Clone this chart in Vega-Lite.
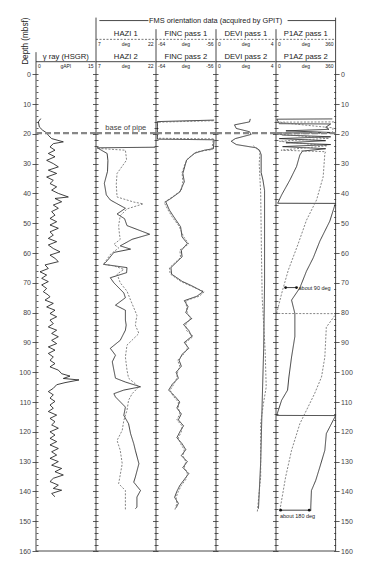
{
"$schema":"https://vega.github.io/schema/vega-lite/v6.json",
"padding":{"left":18,"top":16,"right":5,"bottom":5},
"bounds":"flush",
"spacing":0,
"config":{"view":{"stroke":null},"axis":{"grid":false},"font":"Liberation Sans"},
"resolve":{"scale":{"x":"independent","y":"independent"}},
"datasets":{
"gamma":[{"d":14.9,"v":1.2},{"d":16,"v":0.6},{"d":17.7,"v":0.84},{"d":18.8,"v":1.68},{"d":19.7,"v":2.68},{"d":20.5,"v":3.1},{"d":21.6,"v":3.94},{"d":22.7,"v":6.88},{"d":23.3,"v":4.36},{"d":24.4,"v":3.52},{"d":25.5,"v":4.78},{"d":26.6,"v":3.1},{"d":27.7,"v":4.78},{"d":28.9,"v":2.68},{"d":30,"v":4.36},{"d":31.1,"v":5.62},{"d":32.2,"v":3.1},{"d":33.3,"v":5.2},{"d":34.5,"v":2.68},{"d":35.6,"v":4.36},{"d":36.7,"v":3.52},{"d":37.8,"v":5.2},{"d":38.9,"v":3.94},{"d":40,"v":5.62},{"d":41.2,"v":8.14},{"d":41.7,"v":4.78},{"d":42.8,"v":6.46},{"d":43.9,"v":4.36},{"d":45,"v":5.62},{"d":46.1,"v":3.94},{"d":47.3,"v":4.78},{"d":48.4,"v":3.52},{"d":49.5,"v":5.2},{"d":50.6,"v":3.52},{"d":51.7,"v":5.62},{"d":52.9,"v":3.52},{"d":54,"v":4.36},{"d":55.1,"v":3.1},{"d":56.2,"v":5.2},{"d":57.3,"v":3.1},{"d":58.5,"v":4.36},{"d":59.6,"v":6.04},{"d":60.7,"v":3.52},{"d":61.8,"v":4.78},{"d":62.9,"v":5.62},{"d":64,"v":2.27},{"d":65.2,"v":3.1},{"d":66.3,"v":1.01},{"d":67.4,"v":2.68},{"d":68.5,"v":1.43},{"d":69.6,"v":3.1},{"d":70.7,"v":1.43},{"d":71.9,"v":2.68},{"d":73,"v":1.85},{"d":74.1,"v":3.1},{"d":74.7,"v":3.52},{"d":75.8,"v":2.27},{"d":76.9,"v":4.36},{"d":78.1,"v":2.68},{"d":79.2,"v":4.78},{"d":80.3,"v":3.52},{"d":81.4,"v":5.2},{"d":82.5,"v":3.52},{"d":83.7,"v":4.36},{"d":84.8,"v":3.1},{"d":85.9,"v":5.2},{"d":87,"v":3.94},{"d":88.1,"v":5.62},{"d":89.3,"v":3.94},{"d":90.4,"v":5.2},{"d":91.5,"v":3.1},{"d":92.6,"v":4.78},{"d":93.7,"v":3.1},{"d":94.9,"v":4.36},{"d":96,"v":3.52},{"d":97.1,"v":4.78},{"d":98.2,"v":3.52},{"d":99.3,"v":5.62},{"d":100.5,"v":6.46},{"d":101.3,"v":8.56},{"d":102.1,"v":6.88},{"d":102.6,"v":10.82},{"d":103.5,"v":7.3},{"d":104.2,"v":5.2},{"d":105.4,"v":4.36},{"d":106.5,"v":3.1},{"d":107.6,"v":4.36},{"d":108.7,"v":3.52},{"d":109.8,"v":4.78},{"d":111,"v":3.52},{"d":112.1,"v":4.36},{"d":113.2,"v":3.1},{"d":114.4,"v":5.2},{"d":115.5,"v":3.52},{"d":116.6,"v":4.78},{"d":117.7,"v":3.94},{"d":118.8,"v":5.62},{"d":120,"v":3.52},{"d":121.1,"v":4.78},{"d":122.2,"v":3.52},{"d":123.3,"v":5.2},{"d":124.4,"v":3.52},{"d":125.6,"v":5.62},{"d":126.7,"v":3.94},{"d":127.8,"v":5.2},{"d":128.9,"v":3.52},{"d":130,"v":5.62},{"d":131.2,"v":3.94},{"d":132.3,"v":6.46},{"d":133.4,"v":4.78},{"d":134.5,"v":6.88},{"d":135.6,"v":4.36},{"d":136.7,"v":3.52},{"d":137.9,"v":5.62},{"d":139,"v":4.36},{"d":139.6,"v":6.46},{"d":140.7,"v":3.94},{"d":141.8,"v":4.78}],
"hazi":[{"p":2,"d":24.5,"v":21.9},{"p":2,"d":24.7,"v":7.3},{"p":2,"d":26.6,"v":9.8},{"p":2,"d":29,"v":10},{"p":2,"d":32.6,"v":9.9},{"p":2,"d":36.6,"v":9.1},{"p":2,"d":40.5,"v":9.6},{"p":2,"d":42.2,"v":10.6},{"p":2,"d":45,"v":14.4},{"p":2,"d":46.9,"v":12.3},{"p":2,"d":48.5,"v":14.2},{"p":2,"d":50.8,"v":14.8},{"p":2,"d":53.7,"v":20.5},{"p":2,"d":55.4,"v":16.1},{"p":2,"d":57.6,"v":13.1},{"p":2,"d":58.7,"v":15.7},{"p":2,"d":59.8,"v":11.5},{"p":2,"d":62.6,"v":9.8},{"p":2,"d":63.8,"v":8.9},{"p":2,"d":64.9,"v":14.8},{"p":2,"d":66.6,"v":14.7},{"p":2,"d":68.3,"v":10.6},{"p":2,"d":70,"v":11.5},{"p":2,"d":73.4,"v":14},{"p":2,"d":75,"v":14.4},{"p":2,"d":77.5,"v":11.9},{"p":2,"d":79.2,"v":14.4},{"p":2,"d":82.5,"v":14.4},{"p":2,"d":84.2,"v":14.6},{"p":2,"d":85.9,"v":14.4},{"p":2,"d":89.3,"v":13.1},{"p":2,"d":92,"v":10.6},{"p":2,"d":94.3,"v":11.9},{"p":2,"d":96.5,"v":11.1},{"p":2,"d":99.3,"v":11.5},{"p":2,"d":102,"v":11.9},{"p":2,"d":103.3,"v":14.4},{"p":2,"d":104.9,"v":18.2},{"p":2,"d":106,"v":14},{"p":2,"d":107.2,"v":11.5},{"p":2,"d":108.3,"v":11.9},{"p":2,"d":111.7,"v":14.4},{"p":2,"d":114.5,"v":14},{"p":2,"d":117.3,"v":15.2},{"p":2,"d":120.6,"v":15.7},{"p":2,"d":124,"v":16.5},{"p":2,"d":126.2,"v":16.9},{"p":2,"d":130.7,"v":17.8},{"p":2,"d":135.2,"v":16.9},{"p":2,"d":136.9,"v":16.5},{"p":2,"d":139.7,"v":18.2},{"p":2,"d":141.9,"v":17.3},{"p":2,"d":145.3,"v":17.3},{"p":2,"d":145.8,"v":16.9},
{"p":1,"d":24.9,"v":7.5},{"p":1,"d":25.5,"v":14.4},{"p":1,"d":28.8,"v":14.7},{"p":1,"d":33.3,"v":12.3},{"p":1,"d":37,"v":12.1},{"p":1,"d":41.2,"v":12.3},{"p":1,"d":42.9,"v":16.5},{"p":1,"d":43.5,"v":18.9},{"p":1,"d":45.2,"v":14.8},{"p":1,"d":47.5,"v":13.1},{"p":1,"d":50.8,"v":12.7},{"p":1,"d":53.7,"v":12.9},{"p":1,"d":55.4,"v":13.1},{"p":1,"d":57.1,"v":11.5},{"p":1,"d":58.3,"v":12.7},{"p":1,"d":60.5,"v":10.6},{"p":1,"d":63.8,"v":8.9},{"p":1,"d":64.3,"v":11.5},{"p":1,"d":65.5,"v":14},{"p":1,"d":67.1,"v":12.3},{"p":1,"d":70,"v":13.1},{"p":1,"d":72.8,"v":14.8},{"p":1,"d":75.8,"v":15.7},{"p":1,"d":80.9,"v":17.3},{"p":1,"d":84.2,"v":16.9},{"p":1,"d":87,"v":17.8},{"p":1,"d":90.9,"v":14.8},{"p":1,"d":94.9,"v":14.4},{"p":1,"d":99.3,"v":14.8},{"p":1,"d":102,"v":15.2},{"p":1,"d":103.9,"v":16.9},{"p":1,"d":104.9,"v":17.8},{"p":1,"d":107.2,"v":16.1},{"p":1,"d":109.4,"v":15.2},{"p":1,"d":112.8,"v":14.8},{"p":1,"d":116.2,"v":14},{"p":1,"d":119.5,"v":13.6},{"p":1,"d":122.9,"v":12.3},{"p":1,"d":126.2,"v":13.1},{"p":1,"d":130.7,"v":13.6},{"p":1,"d":137.4,"v":12.7},{"p":1,"d":139.7,"v":14.4},{"p":1,"d":144.2,"v":14.4},{"p":1,"d":146.5,"v":14.4}],
"finc":[{"p":2,"d":15.4,"v":-56.2},{"p":2,"d":15.9,"v":-63.8},{"p":2,"d":21.8,"v":-63.8},{"p":2,"d":22,"v":-56.2},{"p":2,"d":25,"v":-56.3},{"p":2,"d":25.5,"v":-57.5},{"p":2,"d":26.5,"v":-58.8},{"p":2,"d":28.8,"v":-59.9},{"p":2,"d":33.3,"v":-60.4},{"p":2,"d":36.1,"v":-60.2},{"p":2,"d":39.5,"v":-60.8},{"p":2,"d":41.7,"v":-62},{"p":2,"d":42.8,"v":-62.7},{"p":2,"d":45.6,"v":-62.2},{"p":2,"d":47.9,"v":-61.6},{"p":2,"d":51.2,"v":-60.7},{"p":2,"d":54.6,"v":-60.5},{"p":2,"d":56.8,"v":-59.8},{"p":2,"d":59.1,"v":-60.6},{"p":2,"d":61.3,"v":-60.5},{"p":2,"d":64.9,"v":-62},{"p":2,"d":67.1,"v":-61.9},{"p":2,"d":69.5,"v":-60.5},{"p":2,"d":71,"v":-59.2},{"p":2,"d":73,"v":-57.7},{"p":2,"d":74.5,"v":-58.5},{"p":2,"d":76,"v":-60.2},{"p":2,"d":78,"v":-59.7},{"p":2,"d":80,"v":-60},{"p":2,"d":82,"v":-59.2},{"p":2,"d":84,"v":-60.3},{"p":2,"d":86,"v":-59.6},{"p":2,"d":88,"v":-59.2},{"p":2,"d":90,"v":-60.2},{"p":2,"d":92,"v":-59.6},{"p":2,"d":94,"v":-60.5},{"p":2,"d":96,"v":-60.9},{"p":2,"d":98,"v":-60.6},{"p":2,"d":100,"v":-61.3},{"p":2,"d":102,"v":-61},{"p":2,"d":104,"v":-61.8},{"p":2,"d":106,"v":-62.3},{"p":2,"d":108,"v":-61.5},{"p":2,"d":110,"v":-60.8},{"p":2,"d":112,"v":-61.2},{"p":2,"d":114,"v":-60.6},{"p":2,"d":116,"v":-61},{"p":2,"d":118,"v":-60.3},{"p":2,"d":120,"v":-60.8},{"p":2,"d":122,"v":-61.2},{"p":2,"d":124,"v":-60.5},{"p":2,"d":126,"v":-60},{"p":2,"d":128,"v":-60.6},{"p":2,"d":130,"v":-59.8},{"p":2,"d":132,"v":-60.4},{"p":2,"d":134,"v":-59.6},{"p":2,"d":136,"v":-60.2},{"p":2,"d":138,"v":-60.8},{"p":2,"d":140,"v":-61.2},{"p":2,"d":142,"v":-61.5},{"p":2,"d":144,"v":-61},{"p":2,"d":145.5,"v":-61.3},
{"p":1,"d":15.6,"v":-56.3},{"p":1,"d":16.1,"v":-63.8},{"p":1,"d":21.5,"v":-63.8},{"p":1,"d":21.7,"v":-56.3},{"p":1,"d":25.3,"v":-56.5},{"p":1,"d":26,"v":-58.5},{"p":1,"d":28,"v":-59.6},{"p":1,"d":30,"v":-60.1},{"p":1,"d":33,"v":-60.5},{"p":1,"d":36,"v":-60.4},{"p":1,"d":39,"v":-60.6},{"p":1,"d":41,"v":-61.7},{"p":1,"d":43,"v":-62.9},{"p":1,"d":45.5,"v":-62.4},{"p":1,"d":48,"v":-61.8},{"p":1,"d":51,"v":-60.9},{"p":1,"d":54.5,"v":-60.3},{"p":1,"d":57,"v":-59.6},{"p":1,"d":59,"v":-60.8},{"p":1,"d":61.5,"v":-60.7},{"p":1,"d":65,"v":-62.2},{"p":1,"d":67,"v":-62.1},{"p":1,"d":69.5,"v":-60.7},{"p":1,"d":71,"v":-59.4},{"p":1,"d":73,"v":-57.5},{"p":1,"d":74.5,"v":-58.2},{"p":1,"d":76,"v":-60},{"p":1,"d":78,"v":-59.9},{"p":1,"d":80,"v":-59.8},{"p":1,"d":82,"v":-59.4},{"p":1,"d":84,"v":-60},{"p":1,"d":86,"v":-59.9},{"p":1,"d":88,"v":-59},{"p":1,"d":90,"v":-60},{"p":1,"d":92,"v":-59.8},{"p":1,"d":94,"v":-60.3},{"p":1,"d":96,"v":-61.1},{"p":1,"d":98,"v":-60.8},{"p":1,"d":100,"v":-61.1},{"p":1,"d":102,"v":-61.2},{"p":1,"d":104,"v":-61.6},{"p":1,"d":106,"v":-62.1},{"p":1,"d":108,"v":-61.7},{"p":1,"d":110,"v":-61},{"p":1,"d":112,"v":-61},{"p":1,"d":114,"v":-60.8},{"p":1,"d":116,"v":-61.2},{"p":1,"d":118,"v":-60.5},{"p":1,"d":120,"v":-60.6},{"p":1,"d":122,"v":-61},{"p":1,"d":124,"v":-60.7},{"p":1,"d":126,"v":-60.2},{"p":1,"d":128,"v":-60.4},{"p":1,"d":130,"v":-60},{"p":1,"d":132,"v":-60.2},{"p":1,"d":134,"v":-59.8},{"p":1,"d":136,"v":-60},{"p":1,"d":138,"v":-60.6},{"p":1,"d":140,"v":-61},{"p":1,"d":142,"v":-61.3},{"p":1,"d":144,"v":-61.2},{"p":1,"d":146.5,"v":-61.5}],
"devi":[{"p":2,"d":15,"v":2.3},{"p":2,"d":16,"v":2.25},{"p":2,"d":17,"v":1.24},{"p":2,"d":18.2,"v":1.36},{"p":2,"d":19.3,"v":2.25},{"p":2,"d":20.2,"v":2.36},{"p":2,"d":21.6,"v":1.3},{"p":2,"d":22.5,"v":1.02},{"p":2,"d":23.6,"v":1.36},{"p":2,"d":24.7,"v":2.7},{"p":2,"d":25.5,"v":2.92},{"p":2,"d":27,"v":3.03},{"p":2,"d":33,"v":3.03},{"p":2,"d":35.5,"v":3.15},{"p":2,"d":39,"v":3.26},{"p":2,"d":70,"v":3.26},{"p":2,"d":92,"v":3.2},{"p":2,"d":110,"v":3.1},{"p":2,"d":130,"v":3},{"p":2,"d":145.8,"v":2.85},
{"p":1,"d":24,"v":2.5},{"p":1,"d":26,"v":2.95},{"p":1,"d":30,"v":2.9},{"p":1,"d":40,"v":3},{"p":1,"d":60,"v":3.05},{"p":1,"d":75,"v":3.1},{"p":1,"d":93,"v":3.3},{"p":1,"d":105,"v":3.37},{"p":1,"d":110,"v":3.2},{"p":1,"d":117,"v":3},{"p":1,"d":135,"v":3},{"p":1,"d":147,"v":2.77}],
"p1az":[{"p":2,"d":15,"v":340},{"p":2,"d":15.1,"v":5},{"p":2,"d":16.6,"v":20},{"p":2,"d":16.7,"v":330},{"p":2,"d":17.8,"v":300},{"p":2,"d":18.5,"v":320},{"p":2,"d":19,"v":60},{"p":2,"d":19.6,"v":355},{"p":2,"d":19.7,"v":5},{"p":2,"d":20.4,"v":40},{"p":2,"d":21,"v":330},{"p":2,"d":21.6,"v":20},{"p":2,"d":22.3,"v":300},{"p":2,"d":23,"v":60},{"p":2,"d":23.6,"v":330},{"p":2,"d":24.3,"v":40},{"p":2,"d":25,"v":300},{"p":2,"d":25.8,"v":160},{"p":2,"d":27.1,"v":144},{"p":2,"d":31,"v":124},{"p":2,"d":35.5,"v":84},{"p":2,"d":40.5,"v":34},{"p":2,"d":43.3,"v":10},{"p":2,"d":43.35,"v":360},{"p":2,"d":44,"v":355},{"p":2,"d":49.3,"v":325},{"p":2,"d":56,"v":265},{"p":2,"d":61.6,"v":225},{"p":2,"d":66.1,"v":184},{"p":2,"d":71.7,"v":144},{"p":2,"d":75.8,"v":94},{"p":2,"d":80.3,"v":114},{"p":2,"d":88,"v":114},{"p":2,"d":94.9,"v":94},{"p":2,"d":101.6,"v":78},{"p":2,"d":106,"v":70},{"p":2,"d":109.4,"v":34},{"p":2,"d":114.5,"v":4},{"p":2,"d":114.55,"v":360},{"p":2,"d":115,"v":356},{"p":2,"d":120.6,"v":304},{"p":2,"d":126.2,"v":295},{"p":2,"d":131.8,"v":265},{"p":2,"d":136.3,"v":240},{"p":2,"d":139.7,"v":214},{"p":2,"d":145.3,"v":210},{"p":2,"d":146.5,"v":210},
{"p":1,"d":16,"v":350},{"p":1,"d":16.1,"v":10},{"p":1,"d":17.5,"v":250},{"p":1,"d":18,"v":345},{"p":1,"d":19.8,"v":340},{"p":1,"d":20.1,"v":10},{"p":1,"d":21.5,"v":320},{"p":1,"d":22.5,"v":20},{"p":1,"d":24,"v":310},{"p":1,"d":25.5,"v":30},{"p":1,"d":26,"v":300},{"p":1,"d":26.6,"v":295},{"p":1,"d":34.4,"v":285},{"p":1,"d":42.2,"v":245},{"p":1,"d":49,"v":184},{"p":1,"d":56.9,"v":134},{"p":1,"d":65.8,"v":74},{"p":1,"d":73.6,"v":34},{"p":1,"d":80.3,"v":4},{"p":1,"d":80.35,"v":360},{"p":1,"d":81,"v":355},{"p":1,"d":84.9,"v":304},{"p":1,"d":94.9,"v":295},{"p":1,"d":101.6,"v":275},{"p":1,"d":107.2,"v":233},{"p":1,"d":117.3,"v":144},{"p":1,"d":126.2,"v":94},{"p":1,"d":135.2,"v":58},{"p":1,"d":146.5,"v":23}]
},
"hconcat":[
{"width":59.6,"height":534,"data":{"values":[{}]},"resolve":{"axis":{"x":"independent","y":"independent"}},"layer":[
 {"data":{"name":"gamma"},"mark":{"type":"line","color":"#111","strokeWidth":0.8},"encoding":{
  "x":{"field":"v","type":"quantitative","scale":{"domain":[0,15],"nice":false,"zero":false},"axis":null},
  "y":{"field":"d","type":"quantitative","scale":{"domain":[-19.2,160],"reverse":true,"nice":false,"zero":false},"axis":null},
  "order":{"field":"d"}}},
 {"mark":{"type":"rule","color":"#333","strokeWidth":0.9},"encoding":{"x":{"datum":0,"axis":null},"y":{"datum":-7.4,"axis":{"orient":"left","values":[0,2,4,6,8,10,12,14,16,18,20,22,24,26,28,30,32,34,36,38,40,42,44,46,48,50,52,54,56,58,60,62,64,66,68,70,72,74,76,78,80,82,84,86,88,90,92,94,96,98,100,102,104,106,108,110,112,114,116,118,120,122,124,126,128,130,132,134,136,138,140,142,144,146,148,150,152,154,156,158,160],"domain":false,"offset":-2,"tickColor":"#333","tickWidth":0.8,"tickSize":{"condition":{"test":"datum.value % 10 === 0","value":6},"value":2},"labelExpr":"datum.value % 10 === 0 ? datum.label : ''","labelOverlap":false,"labelFontSize":7,"labelColor":"#444","labelPadding":1.5,"title":"Depth (mbsf)","titleFontSize":8.2,"titleFontWeight":"normal","titleColor":"#222","titleAnchor":"start","titleAlign":"right","titlePadding":-11}},"y2":{"datum":160}}},
 {"mark":{"type":"rule","color":"#333","strokeWidth":0.9},"encoding":{"x":{"datum":0,"axis":null},"x2":{"datum":15},"y":{"datum":160,"axis":null}}},
 {"mark":{"type":"rule","color":"#333","strokeWidth":0.9},"encoding":{"x":{"datum":0,"axis":null},"x2":{"datum":15},"y":{"datum":-4.2,"axis":null}}},
 {"mark":{"type":"rule","color":"#888","strokeWidth":2.2,"strokeDash":[6,3]},"encoding":{"x":{"datum":0,"axis":null},"x2":{"datum":15},"y":{"datum":19.8,"axis":null}}},
 {"mark":{"type":"text","text":"γ ray (HSGR)","fontSize":7.7,"color":"#222","baseline":"middle"},"encoding":{"x":{"datum":7.5,"axis":null},"y":{"datum":-5.9,"axis":null}}},
 {"mark":{"type":"text","text":"0","fontSize":5,"color":"#222","baseline":"middle","align":"left","dx":2},"encoding":{"x":{"datum":0,"axis":null},"y":{"datum":-2.7,"axis":null}}},
 {"mark":{"type":"text","text":"gAPI","fontSize":5,"color":"#222","baseline":"middle"},"encoding":{"x":{"datum":7.5,"axis":null},"y":{"datum":-2.7,"axis":null}}},
 {"mark":{"type":"text","text":"15","fontSize":5,"color":"#222","baseline":"middle","align":"right","dx":-2},"encoding":{"x":{"datum":15,"axis":null},"y":{"datum":-2.7,"axis":null}}}
]},
{"width":59.6,"height":534,"data":{"values":[{}]},"resolve":{"axis":{"x":"independent","y":"independent"}},"layer":[
 {"data":{"name":"hazi"},"mark":{"type":"line","strokeWidth":0.8},"encoding":{
  "x":{"field":"v","type":"quantitative","scale":{"domain":[7,22],"nice":false,"zero":false},"axis":null},
  "y":{"field":"d","type":"quantitative","scale":{"domain":[-19.2,160],"reverse":true,"nice":false,"zero":false},"axis":null},
  "order":{"field":"d"},
  "color":{"field":"p","type":"nominal","scale":{"domain":[1,2],"range":["#666","#111"]},"legend":null},
  "strokeDash":{"field":"p","type":"nominal","scale":{"domain":[1,2],"range":[[2,1.5],[1,0]]},"legend":null}}},
 {"mark":{"type":"rule","color":"#333","strokeWidth":0.9},"encoding":{"x":{"datum":7,"axis":null},"y":{"datum":-19,"axis":{"orient":"left","values":[0,2,4,6,8,10,12,14,16,18,20,22,24,26,28,30,32,34,36,38,40,42,44,46,48,50,52,54,56,58,60,62,64,66,68,70,72,74,76,78,80,82,84,86,88,90,92,94,96,98,100,102,104,106,108,110,112,114,116,118,120,122,124,126,128,130,132,134,136,138,140,142,144,146,148,150,152,154,156,158,160],"labels":false,"domain":false,"title":null,"offset":-2,"tickColor":"#333","tickWidth":0.8,"tickSize":{"condition":{"test":"datum.value % 10 === 0","value":5.5},"value":4}}},"y2":{"datum":160}}},
 {"mark":{"type":"rule","color":"#333","strokeWidth":0.9},"encoding":{"x":{"datum":7,"axis":null},"x2":{"datum":22},"y":{"datum":160,"axis":null}}},
 {"mark":{"type":"rule","color":"#333","strokeWidth":0.9},"encoding":{"x":{"datum":7,"axis":null},"x2":{"datum":22},"y":{"datum":-4.2,"axis":null}}},
 {"mark":{"type":"rule","color":"#555","strokeWidth":0.8,"strokeDash":[2,1.5]},"encoding":{"x":{"datum":7,"axis":null},"x2":{"datum":22},"y":{"datum":-11.7,"axis":null}}},
 {"mark":{"type":"rule","color":"#333","strokeWidth":0.9},"encoding":{"x":{"datum":7.85,"axis":null},"x2":{"datum":20.2},"y":{"datum":-18,"axis":null}}},
 {"mark":{"type":"rule","color":"#888","strokeWidth":2.2,"strokeDash":[6,3]},"encoding":{"x":{"datum":7,"axis":null},"x2":{"datum":22},"y":{"datum":19.8,"axis":null}}},
 {"mark":{"type":"text","text":"base of pipe","fontSize":7.5,"color":"#444","baseline":"middle"},"encoding":{"x":{"datum":14.5,"axis":null},"y":{"datum":18,"axis":null}}},
 {"mark":{"type":"text","text":"HAZI 2","fontSize":7.7,"color":"#222","baseline":"middle"},"encoding":{"x":{"datum":14.5,"axis":null},"y":{"datum":-5.9,"axis":null}}},
 {"mark":{"type":"text","text":"HAZI 1","fontSize":7.7,"color":"#222","baseline":"middle"},"encoding":{"x":{"datum":14.5,"axis":null},"y":{"datum":-13.4,"axis":null}}},
 {"mark":{"type":"text","text":"7","fontSize":5,"color":"#222","baseline":"middle","align":"left","dx":2},"encoding":{"x":{"datum":7,"axis":null},"y":{"datum":-2.7,"axis":null}}},
 {"mark":{"type":"text","text":"deg","fontSize":5,"color":"#222","baseline":"middle"},"encoding":{"x":{"datum":14.5,"axis":null},"y":{"datum":-2.7,"axis":null}}},
 {"mark":{"type":"text","text":"22","fontSize":5,"color":"#222","baseline":"middle","align":"right","dx":-2},"encoding":{"x":{"datum":22,"axis":null},"y":{"datum":-2.7,"axis":null}}},
 {"mark":{"type":"text","text":"7","fontSize":5,"color":"#222","baseline":"middle","align":"left","dx":2},"encoding":{"x":{"datum":7,"axis":null},"y":{"datum":-10.1,"axis":null}}},
 {"mark":{"type":"text","text":"deg","fontSize":5,"color":"#222","baseline":"middle"},"encoding":{"x":{"datum":14.5,"axis":null},"y":{"datum":-10.1,"axis":null}}},
 {"mark":{"type":"text","text":"22","fontSize":5,"color":"#222","baseline":"middle","align":"right","dx":-2},"encoding":{"x":{"datum":22,"axis":null},"y":{"datum":-10.1,"axis":null}}}
]},
{"width":59.6,"height":534,"data":{"values":[{}]},"resolve":{"axis":{"x":"independent","y":"independent"}},"layer":[
 {"data":{"name":"finc"},"mark":{"type":"line","strokeWidth":0.8},"encoding":{
  "x":{"field":"v","type":"quantitative","scale":{"domain":[-64,-56],"nice":false,"zero":false},"axis":null},
  "y":{"field":"d","type":"quantitative","scale":{"domain":[-19.2,160],"reverse":true,"nice":false,"zero":false},"axis":null},
  "order":{"field":"d"},
  "color":{"field":"p","type":"nominal","scale":{"domain":[1,2],"range":["#666","#111"]},"legend":null},
  "strokeDash":{"field":"p","type":"nominal","scale":{"domain":[1,2],"range":[[2,1.5],[1,0]]},"legend":null}}},
 {"mark":{"type":"rule","color":"#333","strokeWidth":0.9},"encoding":{"x":{"datum":-64,"axis":null},"y":{"datum":-15.1,"axis":{"orient":"left","values":[0,2,4,6,8,10,12,14,16,18,20,22,24,26,28,30,32,34,36,38,40,42,44,46,48,50,52,54,56,58,60,62,64,66,68,70,72,74,76,78,80,82,84,86,88,90,92,94,96,98,100,102,104,106,108,110,112,114,116,118,120,122,124,126,128,130,132,134,136,138,140,142,144,146,148,150,152,154,156,158,160],"labels":false,"domain":false,"title":null,"offset":-2,"tickColor":"#333","tickWidth":0.8,"tickSize":{"condition":{"test":"datum.value % 10 === 0","value":5.5},"value":4}}},"y2":{"datum":160}}},
 {"mark":{"type":"rule","color":"#333","strokeWidth":0.9},"encoding":{"x":{"datum":-64,"axis":null},"x2":{"datum":-56},"y":{"datum":160,"axis":null}}},
 {"mark":{"type":"rule","color":"#333","strokeWidth":0.9},"encoding":{"x":{"datum":-64,"axis":null},"x2":{"datum":-56},"y":{"datum":-4.2,"axis":null}}},
 {"mark":{"type":"rule","color":"#555","strokeWidth":0.8,"strokeDash":[2,1.5]},"encoding":{"x":{"datum":-64,"axis":null},"x2":{"datum":-56},"y":{"datum":-11.7,"axis":null}}},
 {"mark":{"type":"rule","color":"#888","strokeWidth":2.2,"strokeDash":[6,3]},"encoding":{"x":{"datum":-64,"axis":null},"x2":{"datum":-56},"y":{"datum":19.8,"axis":null}}},
 {"mark":{"type":"text","text":"FMS orientation data (acquired by GPIT)","fontSize":7.4,"color":"#222","baseline":"middle"},"encoding":{"x":{"datum":-56,"axis":null},"y":{"datum":-18,"axis":null}}},
 {"mark":{"type":"text","text":"FINC pass 2","fontSize":7.7,"color":"#222","baseline":"middle"},"encoding":{"x":{"datum":-60,"axis":null},"y":{"datum":-5.9,"axis":null}}},
 {"mark":{"type":"text","text":"FINC pass 1","fontSize":7.7,"color":"#222","baseline":"middle"},"encoding":{"x":{"datum":-60,"axis":null},"y":{"datum":-13.4,"axis":null}}},
 {"mark":{"type":"text","text":"-64","fontSize":5,"color":"#222","baseline":"middle","align":"left","dx":2},"encoding":{"x":{"datum":-64,"axis":null},"y":{"datum":-2.7,"axis":null}}},
 {"mark":{"type":"text","text":"deg","fontSize":5,"color":"#222","baseline":"middle"},"encoding":{"x":{"datum":-60,"axis":null},"y":{"datum":-2.7,"axis":null}}},
 {"mark":{"type":"text","text":"-56","fontSize":5,"color":"#222","baseline":"middle","align":"right","dx":-2},"encoding":{"x":{"datum":-56,"axis":null},"y":{"datum":-2.7,"axis":null}}},
 {"mark":{"type":"text","text":"-64","fontSize":5,"color":"#222","baseline":"middle","align":"left","dx":2},"encoding":{"x":{"datum":-64,"axis":null},"y":{"datum":-10.1,"axis":null}}},
 {"mark":{"type":"text","text":"deg","fontSize":5,"color":"#222","baseline":"middle"},"encoding":{"x":{"datum":-60,"axis":null},"y":{"datum":-10.1,"axis":null}}},
 {"mark":{"type":"text","text":"-56","fontSize":5,"color":"#222","baseline":"middle","align":"right","dx":-2},"encoding":{"x":{"datum":-56,"axis":null},"y":{"datum":-10.1,"axis":null}}}
]},
{"width":59.6,"height":534,"data":{"values":[{}]},"resolve":{"axis":{"x":"independent","y":"independent"}},"layer":[
 {"data":{"name":"devi"},"mark":{"type":"line","strokeWidth":0.8},"encoding":{
  "x":{"field":"v","type":"quantitative","scale":{"domain":[0,4],"nice":false,"zero":false},"axis":null},
  "y":{"field":"d","type":"quantitative","scale":{"domain":[-19.2,160],"reverse":true,"nice":false,"zero":false},"axis":null},
  "order":{"field":"d"},
  "color":{"field":"p","type":"nominal","scale":{"domain":[1,2],"range":["#666","#111"]},"legend":null},
  "strokeDash":{"field":"p","type":"nominal","scale":{"domain":[1,2],"range":[[2,1.5],[1,0]]},"legend":null}}},
 {"mark":{"type":"rule","color":"#333","strokeWidth":0.9},"encoding":{"x":{"datum":0,"axis":null},"y":{"datum":-15.1,"axis":{"orient":"left","values":[0,2,4,6,8,10,12,14,16,18,20,22,24,26,28,30,32,34,36,38,40,42,44,46,48,50,52,54,56,58,60,62,64,66,68,70,72,74,76,78,80,82,84,86,88,90,92,94,96,98,100,102,104,106,108,110,112,114,116,118,120,122,124,126,128,130,132,134,136,138,140,142,144,146,148,150,152,154,156,158,160],"labels":false,"domain":false,"title":null,"offset":-2,"tickColor":"#333","tickWidth":0.8,"tickSize":{"condition":{"test":"datum.value % 10 === 0","value":5.5},"value":4}}},"y2":{"datum":160}}},
 {"mark":{"type":"rule","color":"#333","strokeWidth":0.9},"encoding":{"x":{"datum":0,"axis":null},"x2":{"datum":4},"y":{"datum":160,"axis":null}}},
 {"mark":{"type":"rule","color":"#333","strokeWidth":0.9},"encoding":{"x":{"datum":0,"axis":null},"x2":{"datum":4},"y":{"datum":-4.2,"axis":null}}},
 {"mark":{"type":"rule","color":"#555","strokeWidth":0.8,"strokeDash":[2,1.5]},"encoding":{"x":{"datum":0,"axis":null},"x2":{"datum":4},"y":{"datum":-11.7,"axis":null}}},
 {"mark":{"type":"rule","color":"#888","strokeWidth":2.2,"strokeDash":[6,3]},"encoding":{"x":{"datum":0,"axis":null},"x2":{"datum":4},"y":{"datum":19.8,"axis":null}}},
 {"mark":{"type":"text","text":"DEVI pass 2","fontSize":7.7,"color":"#222","baseline":"middle"},"encoding":{"x":{"datum":2,"axis":null},"y":{"datum":-5.9,"axis":null}}},
 {"mark":{"type":"text","text":"DEVI pass 1","fontSize":7.7,"color":"#222","baseline":"middle"},"encoding":{"x":{"datum":2,"axis":null},"y":{"datum":-13.4,"axis":null}}},
 {"mark":{"type":"text","text":"0","fontSize":5,"color":"#222","baseline":"middle","align":"left","dx":2},"encoding":{"x":{"datum":0,"axis":null},"y":{"datum":-2.7,"axis":null}}},
 {"mark":{"type":"text","text":"deg","fontSize":5,"color":"#222","baseline":"middle"},"encoding":{"x":{"datum":2,"axis":null},"y":{"datum":-2.7,"axis":null}}},
 {"mark":{"type":"text","text":"4","fontSize":5,"color":"#222","baseline":"middle","align":"right","dx":-2},"encoding":{"x":{"datum":4,"axis":null},"y":{"datum":-2.7,"axis":null}}},
 {"mark":{"type":"text","text":"0","fontSize":5,"color":"#222","baseline":"middle","align":"left","dx":2},"encoding":{"x":{"datum":0,"axis":null},"y":{"datum":-10.1,"axis":null}}},
 {"mark":{"type":"text","text":"deg","fontSize":5,"color":"#222","baseline":"middle"},"encoding":{"x":{"datum":2,"axis":null},"y":{"datum":-10.1,"axis":null}}},
 {"mark":{"type":"text","text":"4","fontSize":5,"color":"#222","baseline":"middle","align":"right","dx":-2},"encoding":{"x":{"datum":4,"axis":null},"y":{"datum":-10.1,"axis":null}}}
]},
{"width":59.6,"height":534,"data":{"values":[{}]},"resolve":{"axis":{"x":"independent","y":"independent"}},"layer":[
 {"data":{"name":"p1az"},"mark":{"type":"line","strokeWidth":0.8},"encoding":{
  "x":{"field":"v","type":"quantitative","scale":{"domain":[0,360],"nice":false,"zero":false},"axis":null},
  "y":{"field":"d","type":"quantitative","scale":{"domain":[-19.2,160],"reverse":true,"nice":false,"zero":false},"axis":null},
  "order":{"field":"d"},
  "color":{"field":"p","type":"nominal","scale":{"domain":[1,2],"range":["#666","#111"]},"legend":null},
  "strokeDash":{"field":"p","type":"nominal","scale":{"domain":[1,2],"range":[[2,1.5],[1,0]]},"legend":null}}},
 {"mark":{"type":"rule","color":"#333","strokeWidth":0.9},"encoding":{"x":{"datum":360,"axis":null},"y":{"datum":-19,"axis":{"orient":"right","values":[0,2,4,6,8,10,12,14,16,18,20,22,24,26,28,30,32,34,36,38,40,42,44,46,48,50,52,54,56,58,60,62,64,66,68,70,72,74,76,78,80,82,84,86,88,90,92,94,96,98,100,102,104,106,108,110,112,114,116,118,120,122,124,126,128,130,132,134,136,138,140,142,144,146,148,150,152,154,156,158,160],"domain":false,"title":null,"offset":-2,"tickColor":"#333","tickWidth":0.8,"tickSize":{"condition":{"test":"datum.value % 10 === 0","value":5.5},"value":2},"labelExpr":"datum.value % 10 === 0 ? datum.label : ''","labelOverlap":false,"labelFontSize":7,"labelColor":"#444","labelPadding":1.5}},"y2":{"datum":160}}},
 {"mark":{"type":"rule","color":"#333","strokeWidth":0.9},"encoding":{"x":{"datum":0,"axis":null},"y":{"datum":-15.1,"axis":{"orient":"left","values":[0,2,4,6,8,10,12,14,16,18,20,22,24,26,28,30,32,34,36,38,40,42,44,46,48,50,52,54,56,58,60,62,64,66,68,70,72,74,76,78,80,82,84,86,88,90,92,94,96,98,100,102,104,106,108,110,112,114,116,118,120,122,124,126,128,130,132,134,136,138,140,142,144,146,148,150,152,154,156,158,160],"labels":false,"domain":false,"title":null,"offset":-2,"tickColor":"#333","tickWidth":0.8,"tickSize":{"condition":{"test":"datum.value % 10 === 0","value":5.5},"value":4}}},"y2":{"datum":160}}},
 {"mark":{"type":"rule","color":"#333","strokeWidth":0.9},"encoding":{"x":{"datum":0,"axis":null},"x2":{"datum":360},"y":{"datum":160,"axis":null}}},
 {"mark":{"type":"rule","color":"#333","strokeWidth":0.9},"encoding":{"x":{"datum":0,"axis":null},"x2":{"datum":360},"y":{"datum":-4.2,"axis":null}}},
 {"mark":{"type":"rule","color":"#555","strokeWidth":0.8,"strokeDash":[2,1.5]},"encoding":{"x":{"datum":0,"axis":null},"x2":{"datum":360},"y":{"datum":-11.7,"axis":null}}},
 {"mark":{"type":"rule","color":"#333","strokeWidth":0.9},"encoding":{"x":{"datum":70,"axis":null},"x2":{"datum":360},"y":{"datum":-18,"axis":null}}},
 {"mark":{"type":"rule","color":"#888","strokeWidth":2.2,"strokeDash":[6,3]},"encoding":{"x":{"datum":0,"axis":null},"x2":{"datum":360},"y":{"datum":19.8,"axis":null}}},
 {"mark":{"type":"rule","color":"#111","strokeWidth":0.8},"encoding":{"x":{"datum":58,"axis":null},"x2":{"datum":124},"y":{"datum":71.6,"axis":null}}},
 {"data":{"values":[{"d":71.6,"v":58},{"d":71.6,"v":124},{"d":146.3,"v":28},{"d":146.3,"v":201}]},"mark":{"type":"point","filled":true,"color":"#111","size":8,"opacity":1},"encoding":{"x":{"field":"v","type":"quantitative","axis":null},"y":{"field":"d","type":"quantitative","axis":null}}},
 {"mark":{"type":"text","text":"about 90 deg","fontSize":5.5,"color":"#222","baseline":"middle","align":"left","dx":2},"encoding":{"x":{"datum":124,"axis":null},"y":{"datum":71.8,"axis":null}}},
 {"mark":{"type":"rule","color":"#111","strokeWidth":0.8},"encoding":{"x":{"datum":28,"axis":null},"x2":{"datum":201},"y":{"datum":146.3,"axis":null}}},
 {"mark":{"type":"text","text":"about 180 deg","fontSize":5.5,"color":"#222","baseline":"middle","align":"left"},"encoding":{"x":{"datum":24,"axis":null},"y":{"datum":148.1,"axis":null}}},
 {"mark":{"type":"text","text":"P1AZ pass 2","fontSize":7.7,"color":"#222","baseline":"middle"},"encoding":{"x":{"datum":180,"axis":null},"y":{"datum":-5.9,"axis":null}}},
 {"mark":{"type":"text","text":"P1AZ pass 1","fontSize":7.7,"color":"#222","baseline":"middle"},"encoding":{"x":{"datum":180,"axis":null},"y":{"datum":-13.4,"axis":null}}},
 {"mark":{"type":"text","text":"0","fontSize":5,"color":"#222","baseline":"middle","align":"left","dx":2},"encoding":{"x":{"datum":0,"axis":null},"y":{"datum":-2.7,"axis":null}}},
 {"mark":{"type":"text","text":"deg","fontSize":5,"color":"#222","baseline":"middle"},"encoding":{"x":{"datum":180,"axis":null},"y":{"datum":-2.7,"axis":null}}},
 {"mark":{"type":"text","text":"360","fontSize":5,"color":"#222","baseline":"middle","align":"right","dx":-2},"encoding":{"x":{"datum":360,"axis":null},"y":{"datum":-2.7,"axis":null}}},
 {"mark":{"type":"text","text":"0","fontSize":5,"color":"#222","baseline":"middle","align":"left","dx":2},"encoding":{"x":{"datum":0,"axis":null},"y":{"datum":-10.1,"axis":null}}},
 {"mark":{"type":"text","text":"deg","fontSize":5,"color":"#222","baseline":"middle"},"encoding":{"x":{"datum":180,"axis":null},"y":{"datum":-10.1,"axis":null}}},
 {"mark":{"type":"text","text":"360","fontSize":5,"color":"#222","baseline":"middle","align":"right","dx":-2},"encoding":{"x":{"datum":360,"axis":null},"y":{"datum":-10.1,"axis":null}}}
]}
]
}
